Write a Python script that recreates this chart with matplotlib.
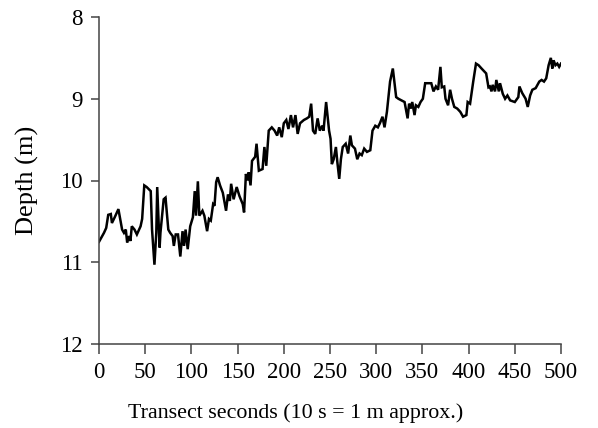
import matplotlib
matplotlib.use("Agg")
import matplotlib.pyplot as plt

seconds = [0, 5.4, 7.8, 10, 12.8, 14, 17, 21, 25, 27, 29, 30.5, 32.6, 34, 35.5, 38.4, 41, 45, 46.7, 49,
           51.6, 56, 57.4, 60, 62, 63, 65.6, 66.5, 70, 72, 75, 77, 79.7, 81, 83, 85.5, 88, 90.4, 92, 93.7,
           96, 98.7, 101.6, 103.6, 105, 107, 108.6, 112, 114, 117, 119, 121, 123.5, 125, 126.8, 128.4, 131,
           134, 137.5, 139.6, 141.6, 143, 145.7, 149, 152, 155.6, 157, 159, 160.6, 162, 164, 165.6, 169,
           170.5, 173, 177, 179, 181, 183.7, 187, 190, 192.8, 195, 197.8, 200, 202.7, 205, 207.7, 210,
           212.6, 215, 217.6, 221.7, 225, 227.5, 229.6, 231.6, 234, 236.6, 239, 241.6, 243, 245.8, 249,
           250.6, 252, 254, 256.4, 258, 260, 261.8, 263.8, 267, 269.6, 272, 273.7, 277, 279.5, 282, 284.4,
           287, 290, 293.6, 296, 299, 301.8, 304, 306.8, 309, 311.6, 315, 318, 321.6, 324, 327.4, 330.7,
           334, 335.6, 337.4, 339, 341.5, 343, 345.6, 348, 350.5, 353, 356, 359.6, 362, 364.6, 367, 369.5,
           371, 373.6, 375, 377.8, 380, 382, 384.5, 387.7, 391, 394, 397.6, 399, 401.6, 405, 408, 410.8,
           414, 419, 421.5, 423, 424.8, 426, 428.6, 430, 432.7, 434, 437, 439.5, 442, 445, 450, 453.8, 455,
           458, 461.7, 464, 466.6, 469, 472.6, 476.5, 479, 481.6, 484, 486.6, 489, 490.6, 492, 494, 496,
           498, 500]
depth = [10.75, 10.64, 10.58, 10.42, 10.41, 10.52, 10.45, 10.35, 10.6, 10.64, 10.6, 10.76, 10.68, 10.74,
         10.56, 10.6, 10.66, 10.56, 10.47, 10.06, 10.08, 10.13, 10.6, 11.03, 10.64, 10.08, 10.82, 10.64,
         10.23, 10.21, 10.6, 10.64, 10.68, 10.8, 10.66, 10.66, 10.93, 10.62, 10.8, 10.6, 10.84, 10.56,
         10.45, 10.13, 10.43, 10.01, 10.43, 10.37, 10.43, 10.62, 10.47, 10.49, 10.29, 10.31, 10.02, 9.96,
         10.06, 10.15, 10.37, 10.17, 10.25, 10.04, 10.23, 10.08, 10.19, 10.29, 10.39, 9.92, 10.0, 9.9,
         10.06, 9.76, 9.71, 9.55, 9.88, 9.86, 9.59, 9.82, 9.39, 9.35, 9.39, 9.45, 9.35, 9.47, 9.3, 9.26,
         9.37, 9.2, 9.35, 9.2, 9.43, 9.3, 9.26, 9.24, 9.22, 9.06, 9.39, 9.43, 9.24, 9.39, 9.33, 9.39,
         9.04, 9.39, 9.49, 9.8, 9.74, 9.59, 9.78, 9.98, 9.74, 9.59, 9.55, 9.67, 9.45, 9.57, 9.61, 9.74,
         9.67, 9.69, 9.61, 9.65, 9.63, 9.39, 9.33, 9.35, 9.3, 9.22, 9.35, 9.16, 8.79, 8.63, 8.98, 9.0,
         9.02, 9.04, 9.24, 9.06, 9.12, 9.04, 9.2, 9.08, 9.1, 9.04, 9.0, 8.81, 8.81, 8.81, 8.91, 8.85,
         8.89, 8.61, 8.86, 8.85, 9.0, 9.08, 8.89, 9.0, 9.1, 9.12, 9.16, 9.22, 9.2, 9.04, 9.06, 8.79,
         8.57, 8.59, 8.63, 8.69, 8.86, 8.85, 8.91, 8.83, 8.91, 8.77, 8.91, 8.81, 8.94, 9.0, 8.96, 9.02,
         9.04, 8.98, 8.85, 8.93, 9.0, 9.1, 8.96, 8.89, 8.87, 8.79, 8.77, 8.79, 8.75, 8.59, 8.5, 8.63,
         8.53, 8.59, 8.57, 8.61, 8.57]

x_ticks = [0, 50, 100, 150, 200, 250, 300, 350, 400, 450, 500]
y_ticks = [8, 9, 10, 11, 12]

plt.rcParams['font.family'] = ['Liberation Serif', 'DejaVu Serif']

W, H = 598, 428
fig = plt.figure(figsize=(W / 100, H / 100), dpi=100)
ax_l, ax_r, ax_t, ax_b = 99, 561, 17, 344
ax = fig.add_axes([ax_l / W, 1 - ax_b / H, (ax_r - ax_l) / W, (ax_b - ax_t) / H])
ax.plot(seconds, depth, color='black', linewidth=1.8, solid_joinstyle='miter')
ax.set_xlim(0, 500)
ax.set_ylim(12, 8)
ax.set_xticks(x_ticks)
ax.set_yticks(y_ticks)
for s in ['top', 'right']:
    ax.spines[s].set_visible(False)
for s in ['left', 'bottom']:
    ax.spines[s].set_color('#444444')
    ax.spines[s].set_linewidth(1.1)
ax.tick_params(axis='x', direction='out', length=7.2, width=1.1, color='#444444',
               labelsize=16.5, pad=6)
ax.tick_params(axis='y', direction='out', length=5.5, width=1.1, color='#444444',
               labelsize=16.5, pad=6)

ax.set_xlabel('Transect seconds (10 s = 1 m approx.)', fontsize=15.8)
ax.xaxis.set_label_coords((296 - ax_l) / (ax_r - ax_l), -(418 - ax_b) / (ax_b - ax_t))
ax.xaxis.label.set_va('baseline')

ax.set_ylabel('Depth (m)', fontsize=19)
ax.yaxis.set_label_coords(-(ax_l - 27) / (ax_r - ax_l), 0.5)
ax.yaxis.label.set_va('center')

fig.savefig('out.png', dpi=100)
